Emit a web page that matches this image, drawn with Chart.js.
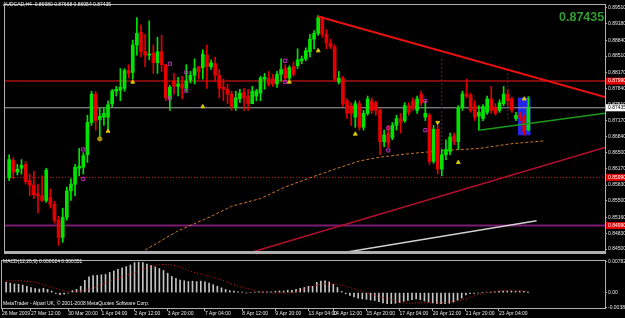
<!DOCTYPE html>
<html>
<head>
<meta charset="utf-8">
<script src="https://cdn.jsdelivr.net/npm/chart.js@4.4.1/dist/chart.umd.min.js"></script>
<style>
  html, body { margin: 0; padding: 0; background: #000; }
  #wrap { position: relative; width: 625px; height: 318px; background: #000; overflow: hidden;
          font-family: "Liberation Sans", Arial, sans-serif; }
  canvas { position: absolute; left: 0; }
  .t { position: absolute; white-space: nowrap; color: #f0f0f0; font-size: 5px; line-height: 1; }
</style>
</head>
<body>
<div id="wrap">
  <canvas id="main" width="625" height="257" style="top:0"></canvas>
  <canvas id="macd" width="625" height="61" style="top:257px"></canvas>
  <div class="t" style="left:3px;top:2px">AUDCAD,H4&nbsp; 0.86980 0.87668 0.86954 0.87435</div>
  <div class="t" style="left:559px;top:11px;font-size:12.5px;font-weight:bold;color:#2e9e2e">0.87435</div>
  <div class="t" style="left:3px;top:259px">MACD(12,26,9) 0.000024 0.000351</div>
  <div class="t" style="left:3px;top:301px">MetaTrader - Alpari UK, © 2001-2008 MetaQuotes Software Corp.</div>
</div>
<script>
// AUDCAD H4, 26 Mar - 24 Apr 2009, one entry per bar
const opens = [
  0.8598,0.8634,0.8610,0.8618,0.8626,0.8592,0.8583,0.8565,0.8561,0.8551,
  0.8557,0.8543,0.8510,0.8474,0.8516,0.8571,0.8585,0.8618,0.8620,0.8646,
  0.8713,0.8772,0.8719,0.8724,0.8724,0.8752,0.8778,0.8780,0.8784,0.8821,
  0.8817,0.8874,0.8900,0.8860,0.8853,0.8857,0.8837,0.8860,0.8833,0.8764,
  0.8799,0.8788,0.8793,0.8784,0.8801,0.8811,0.8829,0.8827,0.8853,0.8829,
  0.8835,0.8811,0.8786,0.8782,0.8772,0.8744,0.8762,0.8776,0.8768,0.8752,
  0.8768,0.8774,0.8803,0.8805,0.8803,0.8793,0.8813,0.8825,0.8805,0.8829,
  0.8831,0.8841,0.8845,0.8860,0.8886,0.8898,0.8931,0.8896,0.8878,0.8870,
  0.8797,0.8805,0.8758,0.8748,0.8724,0.8752,0.8703,0.8732,0.8758,0.8754,
  0.8738,0.8673,0.8691,0.8681,0.8707,0.8721,0.8717,0.8748,0.8758,0.8738,
  0.8772,0.8724,0.8728,0.8632,0.8699,0.8616,0.8646,0.8653,0.8685,0.8673,
  0.8744,0.8772,0.8770,0.8748,0.8726,0.8721,0.8734,0.8762,0.8744,0.8738,
  0.8752,0.8772,0.8762,0.8721,0.8728,0.8724,0.8698
];
const highs = [
  0.8646,0.8640,0.8626,0.8636,0.8632,0.8606,0.8612,0.8585,0.8602,0.8618,
  0.8575,0.8549,0.8518,0.8535,0.8579,0.8596,0.8626,0.8659,0.8650,0.8728,
  0.8778,0.8778,0.8742,0.8744,0.8758,0.8782,0.8788,0.8825,0.8825,0.8833,
  0.8884,0.8931,0.8916,0.8896,0.8924,0.8874,0.8890,0.8894,0.8833,0.8790,
  0.8815,0.8807,0.8809,0.8833,0.8819,0.8845,0.8829,0.8864,0.8874,0.8843,
  0.8849,0.8823,0.8803,0.8793,0.8778,0.8778,0.8782,0.8784,0.8782,0.8788,
  0.8782,0.8809,0.8815,0.8819,0.8813,0.8819,0.8845,0.8833,0.8831,0.8839,
  0.8866,0.8851,0.8868,0.8896,0.8904,0.8935,0.8933,0.8906,0.8886,0.8874,
  0.8819,0.8809,0.8762,0.8754,0.8758,0.8758,0.8738,0.8768,0.8764,0.8758,
  0.8742,0.8697,0.8707,0.8713,0.8728,0.8732,0.8754,0.8754,0.8764,0.8768,
  0.8778,0.8758,0.8732,0.8707,0.8707,0.8657,0.8677,0.8691,0.8691,0.8748,
  0.8778,0.8803,0.8774,0.8758,0.8748,0.8750,0.8768,0.8788,0.8752,0.8760,
  0.8788,0.8782,0.8766,0.8734,0.8734,0.8728,0.87668
];
const lows = [
  0.8592,0.8596,0.8604,0.8606,0.8585,0.8561,0.8555,0.8525,0.8549,0.8547,
  0.8535,0.8504,0.8458,0.8464,0.8510,0.8551,0.8561,0.8602,0.8606,0.8630,
  0.8707,0.8697,0.8677,0.8707,0.8697,0.8746,0.8768,0.8758,0.8778,0.8805,
  0.8803,0.8853,0.8849,0.8829,0.8843,0.8815,0.8815,0.8819,0.8758,0.8738,
  0.8772,0.8768,0.8762,0.8778,0.8795,0.8793,0.8803,0.8803,0.8784,0.8823,
  0.8799,0.8764,0.8758,0.8752,0.8738,0.8738,0.8754,0.8738,0.8738,0.8752,
  0.8758,0.8758,0.8782,0.8788,0.8788,0.8786,0.8799,0.8799,0.8801,0.8809,
  0.8825,0.8835,0.8841,0.8849,0.8866,0.8894,0.8890,0.8866,0.8866,0.8799,
  0.8793,0.8746,0.8721,0.8707,0.8703,0.8697,0.8697,0.8728,0.8732,0.8728,
  0.8646,0.8663,0.8661,0.8677,0.8697,0.8691,0.8713,0.8728,0.8738,0.8732,
  0.8748,0.8717,0.8626,0.8628,0.8606,0.8602,0.8636,0.8646,0.8667,0.8657,
  0.8738,0.8764,0.8734,0.8717,0.8697,0.8717,0.8730,0.8732,0.8728,0.8734,
  0.8748,0.8748,0.8734,0.8717,0.8717,0.8687,0.86954
];
const closes = [
  0.8636,0.8610,0.8616,0.8624,0.8590,0.8583,0.8563,0.8561,0.8551,0.8614,
  0.8543,0.8510,0.8474,0.8516,0.8571,0.8585,0.8620,0.8622,0.8644,0.8713,
  0.8772,0.8717,0.8726,0.8732,0.8750,0.8778,0.8782,0.8786,0.8821,0.8815,
  0.8874,0.8898,0.8860,0.8853,0.8855,0.8837,0.8860,0.8833,0.8764,0.8786,
  0.8788,0.8793,0.8784,0.8799,0.8811,0.8825,0.8819,0.8855,0.8829,0.8837,
  0.8811,0.8784,0.8782,0.8772,0.8746,0.8764,0.8774,0.8764,0.8752,0.8778,
  0.8778,0.8805,0.8807,0.8793,0.8793,0.8813,0.8823,0.8805,0.8827,0.8813,
  0.8843,0.8845,0.8862,0.8886,0.8898,0.8931,0.8896,0.8878,0.8870,0.8803,
  0.8805,0.8752,0.8732,0.8732,0.8752,0.8703,0.8732,0.8762,0.8738,0.8738,
  0.8673,0.8687,0.8671,0.8707,0.8721,0.8713,0.8748,0.8734,0.8744,0.8762,
  0.8754,0.8732,0.8632,0.8699,0.8616,0.8646,0.8657,0.8683,0.8673,0.8744,
  0.8772,0.8768,0.8738,0.8724,0.8734,0.8746,0.8762,0.8738,0.8732,0.8754,
  0.8772,0.8758,0.8738,0.8728,0.8724,0.8693,0.87435
];

// MACD(12,26,9) main line, drawn as histogram
const macd = [
  0.0026,0.0024,0.0022,0.0021,0.0019,0.0016,0.0013,0.0010,0.0009,0.0011,
  0.0008,0.0004,-0.0002,-0.0005,-0.0004,-0.0001,0.0005,0.0008,0.0016,0.0031,
  0.0040,0.0043,0.0044,0.0045,0.0046,0.0051,0.0055,0.0059,0.0063,0.0066,
  0.0070,0.0076,0.0077,0.0076,0.0072,0.0069,0.0065,0.0061,0.0056,0.0049,
  0.0041,0.0036,0.0032,0.0030,0.0028,0.0029,0.0028,0.0029,0.0027,0.0024,
  0.0020,0.0016,0.0012,0.0008,0.0005,0.0004,0.0002,0.0001,-0.0001,0.0000,
  0.0001,0.0002,0.0002,0.0002,0.0002,0.0003,0.0004,0.0004,0.0006,0.0006,
  0.0008,0.0011,0.0013,0.0016,0.0016,0.0026,0.0029,0.0030,0.0027,0.0021,
  0.0013,0.0003,-0.0003,-0.0007,-0.0011,-0.0014,-0.0016,-0.0017,-0.0019,-0.0020,
  -0.0023,-0.0026,-0.0028,-0.0028,-0.0027,-0.0025,-0.0022,-0.0020,-0.0018,-0.0016,
  -0.0018,-0.0021,-0.0024,-0.0026,-0.0028,-0.0028,-0.0028,-0.0027,-0.0024,-0.0020,
  -0.0014,-0.0006,-0.0003,-0.0002,-0.0001,0.0000,0.0001,0.0001,0.0002,0.0003,
  0.0004,0.0004,0.0004,0.0003,0.0003,0.0003,0.000024
];
// signal line, read at these bars
const signalBar = [0,6,9,12,15,18,21,24,27,31,34,36,38,41,44,48,52,55,59,62,
                   65,69,71,74,77,79,82,85,88,91,94,96,100,104,107,111,114,118,122,126];
const signalVal = [0.0030,0.0028,0.0020,0.0010,0.0003,0.0004,0.0012,0.0024,0.0036,0.0050,
                   0.0064,0.0069,0.0071,0.0068,0.0056,0.0044,0.0032,0.0020,0.0008,0.0000,
                   -0.0001,0.0000,0.0006,0.0016,0.0022,0.0022,0.0016,0.0006,-0.0004,-0.0012,
                   -0.0020,-0.0026,-0.0026,-0.0026,-0.0024,-0.0016,-0.0005,0.0003,0.0006,0.000351];

// dashed moving average, read at these bars
const maBar = [33,41,49,54,61,67,73,79,85,90,98,106,114,122,130];
const maVal = [0.8448,0.8488,0.8518,0.8539,0.8555,0.8579,0.8598,0.8616,0.8633,0.8641,
               0.8649,0.8655,0.8659,0.8669,0.8675];

// drawn objects: [bar, price] anchors
const trendDown = [[75, 0.8933], [144.6, 0.8766]];
const trendGreen = [[114, 0.8697], [144.6, 0.8732]];
const trendUpRed = [[59, 0.8444], [144.6, 0.8661]];
const trendUpWhite = [[82, 0.8444], [128, 0.8509]];
const levelSolid = 0.87990;
const levelDotted = 0.85990;
const levelPurple = 0.84990;
const bidPrice = 0.87435;
const boxBar = 125;
const boxRange = [0.8687, 0.8764];
const spikes = [[105, 0.8845, 0.8657], [121, 0.8815, 0.8721]];

// signal arrows
const arrowUpBar = [24, 30, 47, 68, 75, 84, 109, 125];
const arrowUpVal = [0.8695, 0.8797, 0.8746, 0.8797, 0.8862, 0.8689, 0.8630, 0.8762];
const arrowDownBar = [104];
const arrowDownVal = [0.8713];
const dotBar = [22];
const dotVal = [0.8679];
const boxMarkBar = [18, 18, 39, 39, 43, 43, 67, 67, 92, 92, 101, 101];
const boxMarkVal = [0.8657, 0.8596, 0.8835, 0.8763, 0.8817, 0.8779, 0.8841, 0.8797,
                    0.8701, 0.8655, 0.8758, 0.8697];

// axes
const priceTicks = [0.8951,0.8918,0.8884,0.8851,0.8817,0.8784,0.8751,0.8717,
                    0.8684,0.8650,0.8617,0.8583,0.8550,0.8516,0.8483,0.8450];
const macdTicks = [0.00782, 0, -0.00385];
const timeTickBar = [-1, 6, 15, 23, 31, 39, 48, 57, 65, 73, 79, 87, 95, 103, 111, 119];
const timeTickLabel = ['26 Mar 2009','27 Mar 12:00','30 Mar 20:00','1 Apr 04:00','2 Apr 12:00',
  '3 Apr 20:00','7 Apr 04:00','8 Apr 12:00','9 Apr 20:00','13 Apr 04:00','14 Apr 12:00',
  '15 Apr 20:00','17 Apr 04:00','20 Apr 12:00','21 Apr 20:00','23 Apr 04:00'];

const X_MIN = -1, X_MAX = 144.6;
const UP = '#00e400', DOWN = '#e40000';
const FRAME = '#b0b0b0';

Chart.defaults.font.family = '"Liberation Sans", Arial, sans-serif';
Chart.defaults.font.size = 5;
Chart.defaults.color = '#e8e8e8';

const bars = opens.map((o, i) => i);
const candleColor = (ctx) => closes[ctx.dataIndex] >= opens[ctx.dataIndex] ? UP : DOWN;
const pts = (xs, ys) => xs.map((x, k) => ({ x: x, y: ys[k] }));
const seg = (a) => a.map((p) => ({ x: p[0], y: p[1] }));
const flat = (v) => [{ x: X_MIN, y: v }, { x: X_MAX, y: v }];

function lineSet(data, color, width, dash, order) {
  return { type: 'line', data: data, borderColor: color, borderWidth: width,
           borderDash: dash || [], pointRadius: 0, fill: false, order: order };
}
function markSet(data, style, color, fillColor, rot) {
  return { type: 'line', data: data, showLine: false, pointStyle: style, pointRadius: 2.2,
           pointRotation: rot || 0, pointBorderColor: color, pointBackgroundColor: fillColor,
           pointBorderWidth: 1, order: 0 };
}

// frame around plot area
const frame = {
  id: 'frame',
  afterDatasetsDraw(chart) {
    const { ctx, chartArea: a } = chart;
    ctx.save();
    ctx.strokeStyle = FRAME;
    ctx.lineWidth = 1;
    ctx.strokeRect(a.left - 0.5, a.top - 0.5, a.right - a.left + 1, a.bottom - a.top + 1);
    ctx.restore();
  }
};
// thick separator under price panel
const separator = {
  id: 'separator',
  afterDraw(chart) {
    const { ctx, chartArea: a } = chart;
    ctx.save();
    ctx.fillStyle = FRAME;
    ctx.fillRect(a.left - 1, a.bottom - 1, a.right - a.left + 2, 3);
    ctx.restore();
  }
};
// coloured price tags on the right scale
const tagLevels = [levelSolid, bidPrice, levelDotted, levelPurple];
const tagFill = ['#e00000', '#ffffff', '#e00000', '#e00000'];
const tagInk = ['#ffffff', '#000000', '#ffffff', '#ffffff'];
const priceTags = {
  id: 'priceTags',
  afterDraw(chart) {
    const { ctx, scales: { y }, chartArea: a } = chart;
    ctx.save();
    ctx.font = '5px "Liberation Sans", Arial, sans-serif';
    ctx.textBaseline = 'middle';
    tagLevels.forEach((v, k) => {
      const py = y.getPixelForValue(v);
      ctx.fillStyle = tagFill[k];
      ctx.fillRect(a.right + 1, py - 3.5, 20, 7);
      ctx.fillStyle = tagInk[k];
      ctx.fillText(v.toFixed(5), a.right + 3, py);
    });
    ctx.restore();
  }
};

new Chart(document.getElementById('main'), {
  type: 'bar',
  data: {
    datasets: [
      { data: [{ x: boxBar, y: boxRange }], backgroundColor: '#2626e6', barThickness: 12,
        grouped: false, order: 20 },
      lineSet(flat(levelPurple), '#7c1c74', 2, null, 12),
      lineSet(flat(levelDotted), '#c81010', 1, [1, 2], 12),
      lineSet(flat(levelSolid), '#a81010', 1.5, null, 12),
      lineSet(flat(bidPrice), '#a8a8a8', 1, null, 12),
      lineSet(pts(maBar, maVal), '#c8782c', 1, [3, 2], 11),
      lineSet(seg(trendUpWhite), '#d0d0d0', 1.5, null, 1),
      lineSet(seg(trendUpRed), '#b4102c', 1.5, null, 1),
      lineSet(seg(trendGreen), '#1c9a1c', 1.5, null, 1),
      lineSet(seg(trendDown), '#e81010', 2, null, 1),
      ...spikes.map((s) => lineSet([{ x: s[0], y: s[1] }, { x: s[0], y: s[2] }], '#6a1c5c', 1, [2, 2], 10)),
      { data: bars.map((i) => ({ x: i, y: [lows[i], highs[i]] })), backgroundColor: candleColor,
        barThickness: 1, grouped: false, order: 4 },
      { data: bars.map((i) => ({ x: i, y: [opens[i], closes[i]] })), backgroundColor: candleColor,
        barThickness: 3, minBarLength: 1, grouped: false, order: 3 },
      markSet(pts(arrowUpBar, arrowUpVal), 'triangle', '#d8c800', '#d8c800'),
      markSet(pts(arrowDownBar, arrowDownVal), 'triangle', '#d8c800', '#d8c800', 180),
      markSet(pts(dotBar, dotVal), 'circle', '#a89400', '#a89400'),
      markSet(pts(boxMarkBar, boxMarkVal), 'rect', '#c030c0', 'rgba(0,0,0,0)')
    ]
  },
  options: {
    responsive: false,
    animation: false,
    events: [],
    layout: { padding: { left: 2, top: 2, right: 0, bottom: 2 } },
    plugins: { legend: { display: false }, tooltip: { enabled: false } },
    scales: {
      x: { type: 'linear', min: X_MIN, max: X_MAX, offset: false, display: false,
           grid: { offset: false } },
      y: {
        position: 'right', min: 0.8444, max: 0.8957,
        afterFit: (s) => { s.width = 20; },
        afterBuildTicks: (s) => { s.ticks = priceTicks.map((v) => ({ value: v })); },
        ticks: { callback: (v) => v.toFixed(5), padding: 1, autoSkip: false },
        grid: { drawOnChartArea: false, tickLength: 2, color: FRAME },
        border: { color: FRAME }
      }
    }
  },
  plugins: [frame, separator, priceTags]
});

new Chart(document.getElementById('macd'), {
  type: 'bar',
  data: {
    datasets: [
      { type: 'line', data: pts(signalBar, signalVal), borderColor: '#d41a1a', borderWidth: 1,
        borderDash: [1, 2], pointRadius: 0, tension: 0.4, fill: false, order: 0 },
      { data: bars.map((i) => ({ x: i, y: macd[i] })), backgroundColor: '#c4c4c4',
        barThickness: 1, grouped: false, order: 1 }
    ]
  },
  options: {
    responsive: false,
    animation: false,
    events: [],
    layout: { padding: { left: 2, top: 1, right: 0, bottom: 0 } },
    plugins: { legend: { display: false }, tooltip: { enabled: false } },
    scales: {
      x: {
        type: 'linear', min: X_MIN, max: X_MAX, offset: false,
        afterFit: (s) => { s.height = 10; },
        afterBuildTicks: (s) => { s.ticks = timeTickBar.map((v) => ({ value: v })); },
        ticks: { callback: (v, k) => timeTickLabel[k], align: 'start', maxRotation: 0,
                 minRotation: 0, autoSkip: false, padding: 0 },
        grid: { drawOnChartArea: false, tickLength: 3, color: FRAME, offset: false },
        border: { color: FRAME }
      },
      y: {
        position: 'right', min: -0.0039, max: 0.0080,
        afterFit: (s) => { s.width = 20; },
        afterBuildTicks: (s) => { s.ticks = macdTicks.map((v) => ({ value: v })); },
        ticks: { callback: (v) => (v === 0 ? '0.00' : v.toFixed(5)), padding: 1, autoSkip: false },
        grid: { drawOnChartArea: false, tickLength: 2, color: FRAME },
        border: { color: FRAME }
      }
    }
  },
  plugins: [frame]
});
</script>
</body>
</html>
